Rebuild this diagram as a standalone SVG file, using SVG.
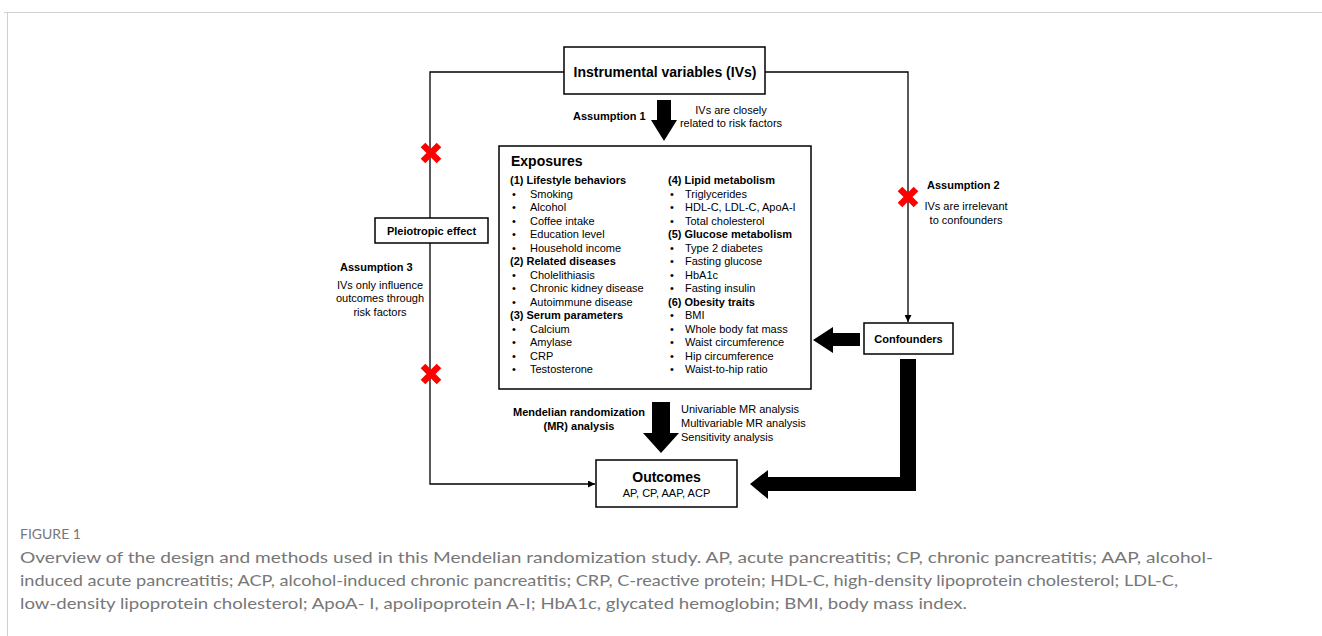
<svg xmlns="http://www.w3.org/2000/svg" width="1322" height="636" viewBox="0 0 1322 636">
<defs>
<style>
.t{font-family:"Liberation Sans",Arial,sans-serif;fill:#000}
.s11{font-size:11px}
.b{font-weight:bold}
.box{fill:#fff;stroke:#000;stroke-width:1.5}
.ln{fill:none;stroke:#000;stroke-width:1.3}
.thick{fill:#000;stroke:none}
.x{stroke:#f00;stroke-width:6.5;fill:none}
.cap{font-family:Lato,"Open Sans",sans-serif;fill:#777}
</style>
<marker id="ah" viewBox="0 0 10 10" refX="10" refY="5" markerWidth="7" markerHeight="7" markerUnits="userSpaceOnUse" orient="auto">
<path d="M0,0 L10,5 L0,10 z" fill="#000"/>
</marker>
</defs>
<rect width="1322" height="636" fill="#fff"/>
<g id="frame">
<line x1="4" y1="12.5" x2="1322" y2="12.5" stroke="#cfcfcf" stroke-width="1"/>
<line x1="7.5" y1="12" x2="7.5" y2="636" stroke="#cfcfcf" stroke-width="1"/>
</g>
<g id="connectors">
<polyline class="ln" points="564,72 430,72 430,218"/>
<polyline class="ln" points="430,243 430,484 595,484" marker-end="url(#ah)"/>
<polyline class="ln" points="765,72 908,72 908,322" marker-end="url(#ah)"/>
<path class="thick" d="M657,100 H671 V120 H677 L664,141 L651,120 H657 Z"/>
<path class="thick" d="M652,402 H670 V433 H679 L661,453 L643,433 H652 Z"/>
<path class="thick" d="M860,333 H833 V327 L813,340 L833,353 V346 H860 Z"/>
<path class="thick" d="M900,359 H916 V491 H768 V499 L750,484 L768,470 V477 H900 Z"/>
</g>
<g id="crosses">
<path class="x" d="M423,145 L439,161 M439,145 L423,161"/>
<path class="x" d="M423,366 L439,382 M439,366 L423,382"/>
<path class="x" d="M900,189 L916,205 M916,189 L900,205"/>
</g>
<g id="iv">
<rect class="box" x="564" y="47" width="201" height="47"/>
<text class="t b" x="665" y="77" font-size="14" text-anchor="middle">Instrumental variables (IVs)</text>
</g>
<g id="assumption1">
<text class="t s11 b" x="573" y="120">Assumption 1</text>
<text class="t s11" x="731" y="114" text-anchor="middle">IVs are closely</text>
<text class="t s11" x="731" y="127" text-anchor="middle">related to risk factors</text>
</g>
<g id="exposures">
<rect class="box" x="499" y="146" width="312" height="243"/>
<text class="t b" x="511" y="166" font-size="14">Exposures</text>
<g class="t s11">
<text class="b" x="510" y="184">(1) Lifestyle behaviors</text>
<text x="512" y="197.5">•</text><text x="530" y="197.5">Smoking</text>
<text x="512" y="211">•</text><text x="530" y="211">Alcohol</text>
<text x="512" y="224.5">•</text><text x="530" y="224.5">Coffee intake</text>
<text x="512" y="238">•</text><text x="530" y="238">Education level</text>
<text x="512" y="251.5">•</text><text x="530" y="251.5">Household income</text>
<text class="b" x="510" y="265">(2) Related diseases</text>
<text x="512" y="278.5">•</text><text x="530" y="278.5">Cholelithiasis</text>
<text x="512" y="292">•</text><text x="530" y="292">Chronic kidney disease</text>
<text x="512" y="305.5">•</text><text x="530" y="305.5">Autoimmune disease</text>
<text class="b" x="510" y="319">(3) Serum parameters</text>
<text x="512" y="332.5">•</text><text x="530" y="332.5">Calcium</text>
<text x="512" y="346">•</text><text x="530" y="346">Amylase</text>
<text x="512" y="359.5">•</text><text x="530" y="359.5">CRP</text>
<text x="512" y="373">•</text><text x="530" y="373">Testosterone</text>
<text class="b" x="668" y="184">(4) Lipid metabolism</text>
<text x="670" y="197.5">•</text><text x="685" y="197.5">Triglycerides</text>
<text x="670" y="211">•</text><text x="685" y="211">HDL-C, LDL-C, ApoA-I</text>
<text x="670" y="224.5">•</text><text x="685" y="224.5">Total cholesterol</text>
<text class="b" x="668" y="238">(5) Glucose metabolism</text>
<text x="670" y="251.5">•</text><text x="685" y="251.5">Type 2 diabetes</text>
<text x="670" y="265">•</text><text x="685" y="265">Fasting glucose</text>
<text x="670" y="278.5">•</text><text x="685" y="278.5">HbA1c</text>
<text x="670" y="292">•</text><text x="685" y="292">Fasting insulin</text>
<text class="b" x="668" y="305.5">(6) Obesity traits</text>
<text x="670" y="319">•</text><text x="685" y="319">BMI</text>
<text x="670" y="332.5">•</text><text x="685" y="332.5">Whole body fat mass</text>
<text x="670" y="346">•</text><text x="685" y="346">Waist circumference</text>
<text x="670" y="359.5">•</text><text x="685" y="359.5">Hip circumference</text>
<text x="670" y="373">•</text><text x="685" y="373">Waist-to-hip ratio</text>
</g>
</g>
<g id="pleiotropic">
<rect class="box" x="375" y="218" width="113" height="25"/>
<text class="t s11 b" x="431.5" y="235" text-anchor="middle">Pleiotropic effect</text>
</g>
<g id="assumption3">
<text class="t s11 b" x="340" y="271">Assumption 3</text>
<text class="t s11" x="380" y="289" text-anchor="middle">IVs only influence</text>
<text class="t s11" x="380" y="302" text-anchor="middle">outcomes through</text>
<text class="t s11" x="380" y="316" text-anchor="middle">risk factors</text>
</g>
<g id="assumption2">
<text class="t s11 b" x="927" y="189">Assumption 2</text>
<text class="t s11" x="966" y="210" text-anchor="middle">IVs are irrelevant</text>
<text class="t s11" x="966" y="224" text-anchor="middle">to confounders</text>
</g>
<g id="confounders">
<rect class="box" x="864" y="323" width="89" height="31"/>
<text class="t s11 b" x="908.5" y="343" text-anchor="middle">Confounders</text>
</g>
<g id="mr">
<text class="t s11 b" x="579" y="416" text-anchor="middle">Mendelian randomization</text>
<text class="t s11 b" x="579" y="430" text-anchor="middle">(MR) analysis</text>
<text class="t s11" x="681" y="413">Univariable MR analysis</text>
<text class="t s11" x="681" y="427">Multivariable MR analysis</text>
<text class="t s11" x="681" y="441">Sensitivity analysis</text>
</g>
<g id="outcomes">
<rect class="box" x="596" y="460" width="141" height="47"/>
<text class="t b" x="666.5" y="482" font-size="14" text-anchor="middle">Outcomes</text>
<text class="t s11" x="666.5" y="497" text-anchor="middle">AP, CP, AAP, ACP</text>
</g>
<g id="caption">
<text class="cap" x="20" y="539" font-size="14">FIGURE 1</text>
<text class="cap" x="20" y="563" font-size="16" textLength="1193" lengthAdjust="spacingAndGlyphs">Overview of the design and methods used in this Mendelian randomization study. AP, acute pancreatitis; CP, chronic pancreatitis; AAP, alcohol-</text>
<text class="cap" x="20" y="586" font-size="16" textLength="1158" lengthAdjust="spacingAndGlyphs">induced acute pancreatitis; ACP, alcohol-induced chronic pancreatitis; CRP, C-reactive protein; HDL-C, high-density lipoprotein cholesterol; LDL-C,</text>
<text class="cap" x="20" y="609" font-size="16" textLength="947" lengthAdjust="spacingAndGlyphs">low-density lipoprotein cholesterol; ApoA- I, apolipoprotein A-I; HbA1c, glycated hemoglobin; BMI, body mass index.</text>
</g>
</svg>
